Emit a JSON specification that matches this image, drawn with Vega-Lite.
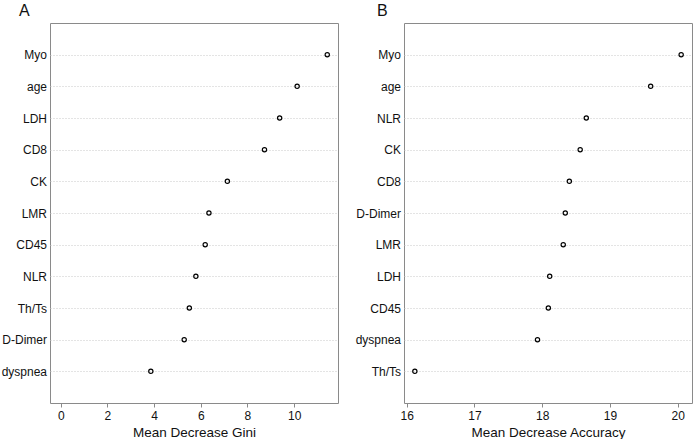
{
  "$schema": "https://vega.github.io/schema/vega-lite/v6.json",
  "padding": {"left": 0, "top": 2, "right": 1, "bottom": 0},
  "background": "white",
  "bounds": "flush",
  "spacing": 66,
  "config": {
    "font": "Liberation Sans",
    "view": {"stroke": "#8a8a8a", "strokeWidth": 1},
    "axis": {"labelFont": "Liberation Sans", "titleFont": "Liberation Sans", "labelColor": "#111", "titleColor": "#111", "titleFontWeight": "normal"}
  },
  "datasets": {
    "gini": [
      {"var": "Myo", "value": 11.42},
      {"var": "age", "value": 10.13},
      {"var": "LDH", "value": 9.38},
      {"var": "CD8", "value": 8.73},
      {"var": "CK", "value": 7.14},
      {"var": "LMR", "value": 6.35},
      {"var": "CD45", "value": 6.19},
      {"var": "NLR", "value": 5.79},
      {"var": "Th/Ts", "value": 5.51},
      {"var": "D-Dimer", "value": 5.29},
      {"var": "dyspnea", "value": 3.86}
    ],
    "acc": [
      {"var": "Myo", "value": 20.05},
      {"var": "age", "value": 19.6},
      {"var": "NLR", "value": 18.65},
      {"var": "CK", "value": 18.56},
      {"var": "CD8", "value": 18.4},
      {"var": "D-Dimer", "value": 18.34},
      {"var": "LMR", "value": 18.31},
      {"var": "LDH", "value": 18.11},
      {"var": "CD45", "value": 18.09},
      {"var": "dyspnea", "value": 17.93},
      {"var": "Th/Ts", "value": 16.12}
    ]
  },
  "hconcat": [
    {
      "width": 288,
      "height": 380,
      "title": {"text": "A", "dx": -31, "offset": 4, "fontSize": 16, "fontWeight": "normal", "font": "Liberation Sans", "anchor": "start", "frame": "group", "color": "#111"},
      "data": {"name": "gini"},
      "mark": {"type": "point", "filled": false, "color": "#000", "size": 18, "strokeWidth": 1.2, "opacity": 1},
      "encoding": {
        "x": {
          "field": "value", "type": "quantitative",
          "scale": {"domain": [-0.46, 11.88], "nice": false, "zero": false},
          "axis": {"values": [0, 2, 4, 6, 8, 10], "grid": false, "domain": false, "tickColor": "#8a8a8a", "tickSize": 4, "labelFontSize": 12, "labelPadding": 3, "title": "Mean Decrease Gini", "titleFontSize": 13.5, "titlePadding": 4}
        },
        "y": {
          "field": "var", "type": "nominal", "sort": "-x",
          "scale": {"type": "point", "padding": 1},
          "axis": {"title": null, "domain": false, "ticks": false, "labelFontSize": 12, "labelPadding": 3.5, "grid": true, "gridColor": "#c8c8c8", "gridDash": [1, 2], "gridWidth": 1}
        }
      }
    },
    {
      "width": 288,
      "height": 380,
      "title": {"text": "B", "dx": -27, "offset": 4, "fontSize": 16, "fontWeight": "normal", "font": "Liberation Sans", "anchor": "start", "frame": "group", "color": "#111"},
      "data": {"name": "acc"},
      "mark": {"type": "point", "filled": false, "color": "#000", "size": 18, "strokeWidth": 1.2, "opacity": 1},
      "encoding": {
        "x": {
          "field": "value", "type": "quantitative",
          "scale": {"domain": [15.96, 20.21], "nice": false, "zero": false},
          "axis": {"values": [16, 17, 18, 19, 20], "grid": false, "domain": false, "tickColor": "#8a8a8a", "tickSize": 4, "labelFontSize": 12, "labelPadding": 3, "title": "Mean Decrease Accuracy", "titleFontSize": 13.5, "titlePadding": 4}
        },
        "y": {
          "field": "var", "type": "nominal", "sort": "-x",
          "scale": {"type": "point", "padding": 1},
          "axis": {"title": null, "domain": false, "ticks": false, "labelFontSize": 12, "labelPadding": 3.5, "grid": true, "gridColor": "#c8c8c8", "gridDash": [1, 2], "gridWidth": 1}
        }
      }
    }
  ]
}
